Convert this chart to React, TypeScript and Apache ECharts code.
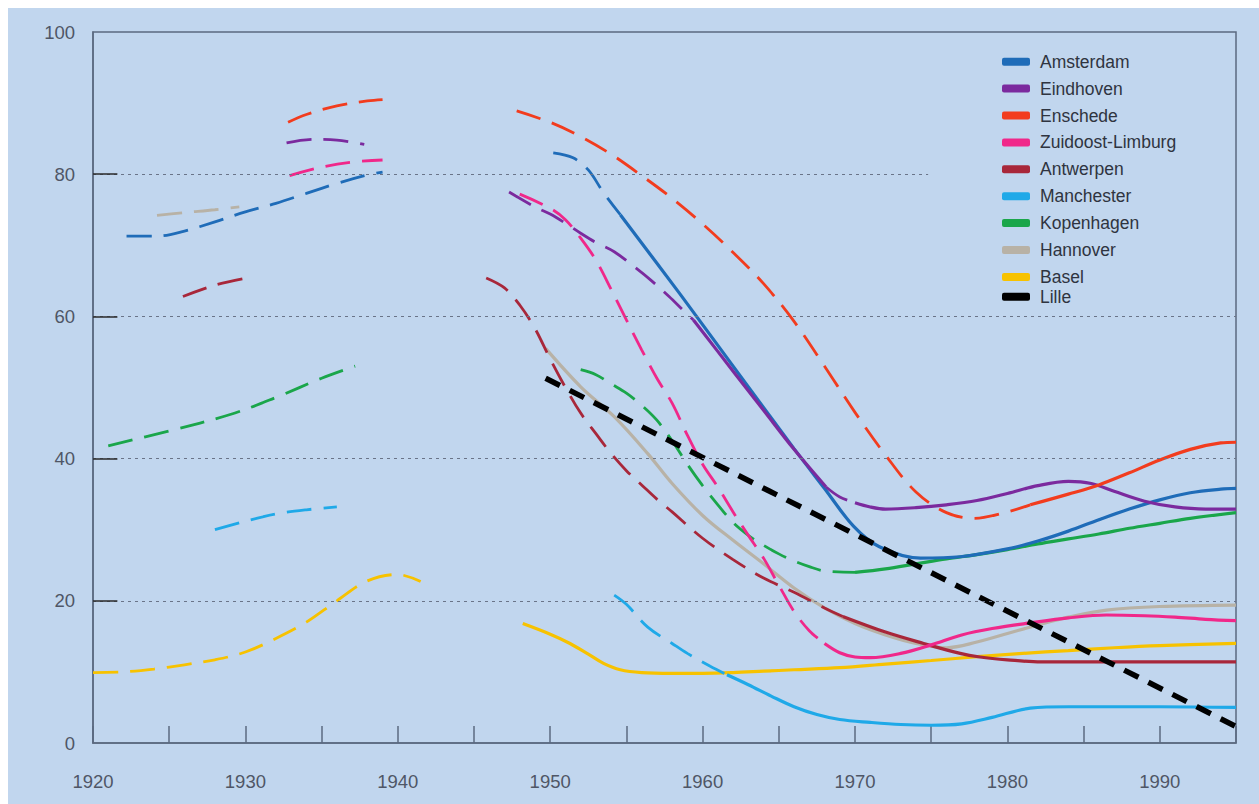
import React, { useEffect, useRef } from "react";
import * as echarts from "echarts";

type P = [number, number];

const CITIES = [
  "Amsterdam",
  "Eindhoven",
  "Enschede",
  "Zuidoost-Limburg",
  "Antwerpen",
  "Manchester",
  "Kopenhagen",
  "Hannover",
  "Basel",
  "Lille",
];

const CITY_COLORS = [
  "#1f6cb8",
  "#7b2a9e",
  "#f23c1e",
  "#f0288a",
  "#a8273a",
  "#1fa9e8",
  "#1aa64a",
  "#b8b2a6",
  "#f7c200",
  "#000000",
];

const X_TICKS = [1920, 1930, 1940, 1950, 1960, 1970, 1980, 1990];
const Y_TICKS = [0, 20, 40, 60, 80, 100];
const GRID_LEVELS = [20, 40, 60, 80];
const GRID_ENDS = [1995, 1995, 1995, 1974.8];

// Amsterdam
const amsterdamPre: P[] = [[1922.2, 71.3], [1924.2, 71.3], [1926, 72], [1928, 73.3], [1930, 74.7], [1932, 75.9], [1934, 77.3], [1936, 78.7], [1938, 79.9], [1939, 80.3]];
const amsterdamPostDash: P[] = [[1950.2, 83], [1951.5, 82.3], [1952.5, 80.6], [1953.5, 77.4], [1954.6, 74.3]];
const amsterdamPostSolid: P[] = [[1954.6, 74.3], [1958.5, 63.2], [1962, 53], [1966, 41.4], [1968, 35.8], [1969.9, 30.5], [1971.6, 27.6], [1974.3, 26], [1976.9, 26.2], [1980, 27.3], [1982, 28.4], [1984, 29.8], [1986, 31.4], [1988, 32.9], [1990, 34.2], [1992, 35.2], [1994, 35.7], [1995, 35.8]];

// Eindhoven
const eindhovenPre: P[] = [[1932.7, 84.4], [1934.5, 84.9], [1936, 84.8], [1937.8, 84.2]];
const eindhovenPostDash1: P[] = [[1947.3, 77.5], [1949, 75.4], [1950, 74.4], [1951, 73.1], [1952, 71.7], [1953, 70.4], [1954.2, 69.1], [1955.5, 67], [1956.6, 65.1], [1957.8, 62.8], [1958.8, 60.7], [1959.4, 59.5]];
const eindhovenPostSolid1: P[] = [[1959.4, 59.5], [1962, 52.3], [1964, 46.8], [1966, 41.3], [1968.1, 36]];
const eindhovenPostDash2: P[] = [[1968.1, 36], [1969, 34.6], [1970, 33.8]];
const eindhovenPostSolid2: P[] = [[1970, 33.8], [1971, 33.2], [1972, 32.9], [1974, 33.1], [1976, 33.5], [1978, 34.1], [1980, 35.1], [1982, 36.2], [1984, 36.8], [1985.5, 36.5], [1987, 35.4], [1989, 34], [1991, 33.2], [1993, 32.9], [1995, 32.9]];

// Enschede
const enschedePre: P[] = [[1932.8, 87.3], [1934, 88.4], [1936, 89.6], [1938, 90.3], [1939, 90.5]];
const enschedePostDash: P[] = [[1947.8, 88.9], [1950, 87.3], [1952, 85.3], [1954, 82.8], [1956, 79.8], [1958, 76.6], [1960, 73], [1962, 69], [1964, 64.6], [1966, 59.3], [1968, 53], [1970, 46.5], [1972, 40.5], [1974, 35.3], [1976, 32.4], [1977.8, 31.6], [1980, 32.5], [1981.5, 33.5]];
const enschedePostSolid: P[] = [[1981.5, 33.5], [1984, 35], [1986, 36.3], [1988, 38], [1990, 39.8], [1992, 41.3], [1994, 42.2], [1995, 42.3]];

// Zuidoost-Limburg
const limburgPre: P[] = [[1932.9, 79.8], [1935, 81], [1937, 81.7], [1939, 82]];
const limburgPostDash: P[] = [[1948, 77.2], [1950, 75.2], [1951, 73.6], [1952, 71], [1953, 67.9], [1954, 63.8], [1955, 59.5], [1956, 55.3], [1957, 51.3], [1958, 47.8], [1959, 43.3], [1960, 39.2], [1961, 36], [1962, 32.5], [1963, 29.2], [1964, 26], [1965, 22.2], [1966, 18.5], [1967, 15.8], [1968, 14]];
const limburgPostSolid: P[] = [[1968, 14], [1969, 12.7], [1970, 12.1], [1971, 12], [1973, 12.6], [1975, 13.8], [1977, 15.2], [1979, 16.1], [1981.5, 16.9], [1984, 17.6], [1986.5, 18], [1989, 17.9], [1991, 17.7], [1993, 17.4], [1995, 17.2]];

// Antwerpen
const antwerpenPre: P[] = [[1925.9, 62.8], [1928, 64.4], [1930.1, 65.4]];
const antwerpenPostDash: P[] = [[1945.8, 65.4], [1947, 64], [1948, 61.6], [1949, 58.3], [1950, 54], [1951, 50], [1952, 46.4], [1953, 43.5], [1954, 40.7], [1955, 38.3], [1956, 36.3], [1957, 34.3], [1958, 32.5], [1960, 28.8], [1962, 25.8], [1964, 23.2], [1966, 21.2], [1968, 19], [1969.2, 17.8]];
const antwerpenPostSolid: P[] = [[1969.2, 17.8], [1972, 15.6], [1974.5, 14], [1976.9, 12.6], [1978.2, 12.1], [1980, 11.7], [1982.2, 11.4], [1985, 11.4], [1990, 11.4], [1995, 11.4]];

// Manchester
const manchesterPre: P[] = [[1928, 30], [1930, 31.2], [1932, 32.2], [1934, 32.8], [1936, 33.2]];
const manchesterPostDash: P[] = [[1954.2, 20.8], [1955, 19.5], [1956.4, 16.3], [1958, 14], [1959, 12.6], [1960.5, 10.8], [1961.6, 9.6]];
const manchesterPostSolid: P[] = [[1961.6, 9.6], [1963, 8.2], [1964.5, 6.6], [1966, 5.1], [1967.5, 4], [1969, 3.3], [1971, 2.9], [1973, 2.6], [1975, 2.5], [1977, 2.7], [1979, 3.6], [1981.5, 4.9], [1984, 5.1], [1987, 5.1], [1990, 5.1], [1995, 5.0]];

// Kopenhagen
const kopenhagenPre: P[] = [[1921, 41.8], [1925, 43.9], [1929, 46.2], [1932, 48.6], [1935, 51.3], [1937.2, 53]];
const kopenhagenPostDash: P[] = [[1952, 52.5], [1953, 51.8], [1954, 50.5], [1955, 49.2], [1956, 47.5], [1957, 45.4], [1958, 42.5], [1959, 39.2], [1960, 36.2], [1961, 33.5], [1962, 31], [1963, 29.2], [1964, 27.8], [1965, 26.6], [1966, 25.6], [1967, 24.8], [1968, 24.2], [1970, 24]];
const kopenhagenPostSolid: P[] = [[1970, 24], [1972, 24.5], [1974, 25.2], [1976, 25.9], [1978, 26.5], [1980, 27.2], [1982, 28], [1984, 28.7], [1986, 29.4], [1988, 30.2], [1990, 30.9], [1992, 31.6], [1995, 32.4]];

// Hannover
const hannoverPre: P[] = [[1924.2, 74.2], [1926, 74.6], [1928, 75], [1929.6, 75.4]];
const hannoverPostSolid: P[] = [[1949.7, 55.5], [1952, 50.1], [1954.2, 45.9], [1956.4, 40.7], [1958, 36.5], [1960, 32], [1962, 28.5], [1964, 25.2], [1966, 21.8], [1968, 19], [1970, 16.8], [1972, 15.2], [1974, 14], [1976, 13.4], [1978, 14.2], [1980, 15.4], [1982, 16.6], [1984, 17.7], [1986.5, 18.7], [1990, 19.2], [1995, 19.4]];

// Basel
const baselPre: P[] = [[1920, 9.9], [1922, 10], [1924, 10.4], [1926, 11], [1928, 11.7], [1930, 12.8], [1932, 14.7], [1934, 17], [1936, 20], [1938, 22.8], [1940, 23.7], [1941.5, 22.7]];
const baselPostSolid: P[] = [[1948.2, 16.8], [1950, 15.3], [1951.3, 14], [1952.5, 12.5], [1953.5, 11.2], [1954.6, 10.3], [1956, 9.9], [1958, 9.8], [1960, 9.8], [1962, 9.9], [1964, 10.1], [1966, 10.3], [1969, 10.6], [1972, 11.1], [1975, 11.6], [1977.8, 12.1], [1981, 12.6], [1984, 13], [1987, 13.4], [1990, 13.7], [1995, 14]];

// Lille
const lilleTrend: P[] = [[1949.7, 51.3], [1995.3, 2]];

type Seg = { city: number; data: P[]; dashed: boolean };

const SEGMENTS: Seg[] = [
  { city: 7, data: hannoverPre, dashed: true },
  { city: 7, data: hannoverPostSolid, dashed: false },
  { city: 8, data: baselPre, dashed: true },
  { city: 8, data: baselPostSolid, dashed: false },
  { city: 5, data: manchesterPre, dashed: true },
  { city: 5, data: manchesterPostDash, dashed: true },
  { city: 5, data: manchesterPostSolid, dashed: false },
  { city: 6, data: kopenhagenPre, dashed: true },
  { city: 6, data: kopenhagenPostDash, dashed: true },
  { city: 6, data: kopenhagenPostSolid, dashed: false },
  { city: 4, data: antwerpenPre, dashed: true },
  { city: 4, data: antwerpenPostDash, dashed: true },
  { city: 4, data: antwerpenPostSolid, dashed: false },
  { city: 3, data: limburgPre, dashed: true },
  { city: 3, data: limburgPostDash, dashed: true },
  { city: 3, data: limburgPostSolid, dashed: false },
  { city: 0, data: amsterdamPre, dashed: true },
  { city: 0, data: amsterdamPostDash, dashed: true },
  { city: 0, data: amsterdamPostSolid, dashed: false },
  { city: 1, data: eindhovenPre, dashed: true },
  { city: 1, data: eindhovenPostDash1, dashed: true },
  { city: 1, data: eindhovenPostSolid1, dashed: false },
  { city: 1, data: eindhovenPostDash2, dashed: true },
  { city: 1, data: eindhovenPostSolid2, dashed: false },
  { city: 2, data: enschedePre, dashed: true },
  { city: 2, data: enschedePostDash, dashed: true },
  { city: 2, data: enschedePostSolid, dashed: false },
];

const FONT = "'Liberation Sans', Arial, Helvetica, sans-serif";

export default function App() {
  const ref = useRef<HTMLDivElement>(null);

  useEffect(() => {
    if (!ref.current) return;
    const chart = echarts.init(ref.current, undefined, { renderer: "svg" });

    const legendSeries = CITIES.map((name, i) => ({
      name,
      type: "line" as const,
      data: [] as P[],
      showSymbol: false,
      itemStyle: { color: CITY_COLORS[i] },
      lineStyle: { color: CITY_COLORS[i] },
    }));

    const gridMarkData: any[] = [];
    GRID_LEVELS.forEach((lv, i) => {
      gridMarkData.push([
        { coord: [1920, lv], lineStyle: { color: "#6a7488", type: [3, 4], width: 1 } },
        { coord: [GRID_ENDS[i], lv] },
      ]);
      gridMarkData.push([
        { coord: [1920, lv], lineStyle: { color: "#2a2a2a", type: "solid", width: 1.5 } },
        { coord: [1921.6, lv] },
      ]);
    });

    const gridSeries = {
      name: "__grid",
      type: "line" as const,
      data: [] as P[],
      silent: true,
      z: 1,
      markLine: {
        silent: true,
        symbol: ["none", "none"],
        label: { show: false },
        animation: false,
        data: gridMarkData,
      },
    };

    const lineSeries = SEGMENTS.map((s) => ({
      name: CITIES[s.city],
      type: "line" as const,
      data: s.data,
      smooth: 0.35,
      showSymbol: false,
      silent: true,
      z: 3,
      itemStyle: { color: CITY_COLORS[s.city] },
      lineStyle: {
        color: CITY_COLORS[s.city],
        width: s.dashed ? 2.8 : 3.2,
        type: s.dashed ? ([25, 12] as any) : "solid",
        cap: "butt",
      },
    }));

    const lilleSeries = {
      name: "Lille",
      type: "line" as const,
      data: lilleTrend,
      showSymbol: false,
      silent: true,
      z: 4,
      itemStyle: { color: "#000" },
      lineStyle: { color: "#000", width: 5.5, type: [16, 11] as any },
    };

    const legendBase = {
      orient: "vertical" as const,
      left: 994,
      padding: 0,
      icon: "roundRect",
      itemWidth: 28,
      itemHeight: 8,
      selectedMode: false,
      itemStyle: { borderWidth: 0 },
      textStyle: {
        fontFamily: FONT,
        fontSize: 17.5,
        lineHeight: 18,
        color: "#2f3440",
        padding: [0, 0, 0, 5],
      },
    };

    chart.setOption({
      animation: false,
      backgroundColor: "transparent",
      grid: {
        left: 85,
        top: 24,
        right: 23,
        bottom: 61,
        show: true,
        borderColor: "#5b6a80",
        borderWidth: 1.5,
        backgroundColor: "transparent",
      },
      legend: [
        { ...legendBase, top: 44.7, itemGap: 8.9, data: CITIES.slice(0, 9) },
        { ...legendBase, top: 279.7, itemGap: 8.9, data: CITIES.slice(9) },
      ],
      xAxis: {
        type: "value",
        min: 1920,
        max: 1995,
        interval: 5,
        axisLine: { show: true, lineStyle: { color: "#5b6a80", width: 1.5 } },
        axisTick: { show: true, inside: true, length: 17, lineStyle: { color: "#5b6a80", width: 1.5 } },
        splitLine: { show: false },
        axisLabel: {
          margin: 29,
          fontFamily: FONT,
          fontSize: 18.5,
          color: "#4f5666",
          formatter: (v: number) => (X_TICKS.includes(v) ? String(v) : ""),
        },
      },
      yAxis: {
        type: "value",
        min: 0,
        max: 100,
        interval: 20,
        axisLine: { show: true, lineStyle: { color: "#5b6a80", width: 1.5 } },
        axisTick: { show: false },
        splitLine: { show: false },
        axisLabel: {
          margin: 18,
          fontFamily: FONT,
          fontSize: 18.5,
          color: "#4f5666",
          padding: [0, 0, 8, 0],
          formatter: (v: number) => (Y_TICKS.includes(v) ? String(v) : ""),
        },
      },
      series: [gridSeries, ...legendSeries, ...lineSeries, lilleSeries],
    });

    return () => chart.dispose();
  }, []);

  return (
    <div
      ref={ref}
      style={{
        position: "fixed",
        left: 8,
        top: 8,
        width: 1251,
        height: 796,
        background: "#c1d6ee",
      }}
    />
  );
}
